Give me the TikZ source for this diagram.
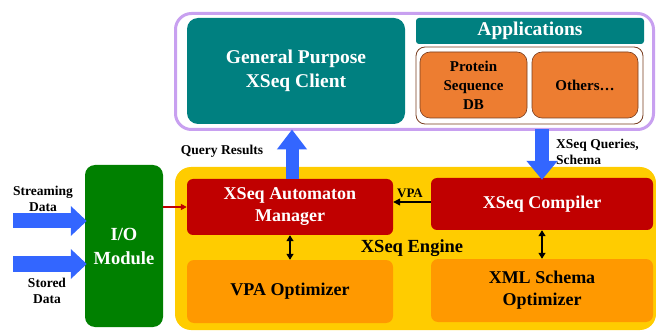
\documentclass[tikz,border=0pt]{standalone}
\usepackage{fontspec}
\setmainfont{Liberation Serif}
\usetikzlibrary{arrows.meta}
\definecolor{tealc}{RGB}{0,128,128}
\definecolor{purplec}{RGB}{200,160,240}
\definecolor{yellowc}{RGB}{255,204,0}
\definecolor{redc}{RGB}{192,0,0}
\definecolor{engorange}{RGB}{255,153,0}
\definecolor{apporange}{RGB}{237,125,49}
\definecolor{greenc}{RGB}{0,128,0}
\definecolor{bluec}{RGB}{51,102,255}
\definecolor{brownc}{RGB}{120,60,30}
\newcommand\myfs[2]{\fontsize{#1}{#2}\selectfont}
\tikzset{
  box/.style={rectangle, inner sep=0pt, align=center, font=\bfseries},
  tealbox/.style={box, fill=tealc, text=white},
  redbox/.style={box, fill=redc, text=white, rounded corners=6pt, font=\bfseries\myfs{18}{22}},
  optbox/.style={box, fill=engorange, text=black, rounded corners=7pt, font=\bfseries\myfs{18}{22}},
  appbox/.style={box, fill=apporange, draw=brownc, line width=0.6pt, text=black, rounded corners=10pt, font=\bfseries\myfs{15}{19}},
  lbl/.style={inner sep=0pt, align=center, font=\bfseries\myfs{13.5}{16}},
  fatarrow/.style={draw=bluec, line cap=butt},
  dbl/.style={draw=black, line width=1.3pt, {Triangle[length=6pt,width=7pt]}-{Triangle[length=6pt,width=7pt]}},
}
\begin{document}
\begin{tikzpicture}[x=1pt,y=-1pt]
\useasboundingbox (0,0) rectangle (656,331);
% containers
\draw[draw=purplec, fill=white, line width=3pt, rounded corners=16pt]
  (175.5,13.5) rectangle (653.5,129.5);
\coordinate (topsouth) at (414.5,129.5);
\fill[yellowc, rounded corners=16pt] (175,167) rectangle (656,330);
% top boxes
\node[tealbox, rounded corners=11pt, minimum width=218pt, minimum height=106pt,
  font=\bfseries\myfs{19.5}{24}] (client) at (296,71) {General Purpose\\XSeq Client};
\node[tealbox, rounded corners=3pt, minimum width=228pt, minimum height=26pt,
  font=\bfseries\myfs{19.5}{22}] (apps) at (530,31) {Applications};
\draw[draw=brownc, fill=white, line width=0.8pt, rounded corners=9pt]
  (416,47) rectangle (643,124);
\node[appbox, minimum width=107pt, minimum height=66pt] (protein) at (473.5,85) {Protein\\Sequence\\DB};
\node[appbox, minimum width=106pt, minimum height=66pt] (others) at (585,85) {Others…};
% engine boxes
\node[redbox, minimum width=206pt, minimum height=56pt] (manager) at (290,207) {XSeq Automaton\\Manager};
\node[redbox, minimum width=222pt, minimum height=52pt] (compiler) at (542,204) {XSeq Compiler};
\node[optbox, minimum width=206pt, minimum height=63pt] (vpaopt) at (290,291.5) {VPA Optimizer};
\node[optbox, minimum width=222pt, minimum height=63pt] (xmlopt) at (542,290.5) {XML Schema\\Optimizer};
\node[inner sep=0pt, font=\bfseries\myfs{18.5}{22}] (englbl) at (412,248) {XSeq Engine};
% I/O
\node[box, fill=greenc, text=white, rounded corners=10pt, minimum width=78pt, minimum height=162pt,
  font=\bfseries\myfs{18.5}{24}] (io) at (124,246) {I/O\\Module};
% labels
\node[lbl] (stream) at (43,199) {Streaming\\Data};
\node[lbl] (stored) at (47,291) {Stored\\Data};
\node[lbl] (qres) at (222,151) {Query Results};
\node[lbl, align=left, anchor=west] (xq) at (556,152) {XSeq Queries,\\Schema};
\node[inner sep=0pt, font=\bfseries\myfs{13}{15}] (vpalbl) at (410,193) {VPA};
% input arrows
\coordinate (s0) at (13,221);
\coordinate (t0) at (13,264);
\draw[fatarrow, line width=15pt, -{Triangle[length=16pt,width=29pt]}] (s0) -- ([xshift=2pt]s0 -| io.west);
\draw[fatarrow, line width=15pt, -{Triangle[length=16pt,width=29pt]}] (t0) -- ([xshift=2pt]t0 -| io.west);
% blue vertical arrows
\draw[fatarrow, line width=13pt, -{Triangle[length=20pt,width=29pt]}]
  ([xshift=2pt]manager.north) -- ([xshift=2pt]manager.north |- topsouth);
\draw[fatarrow, line width=14pt, -{Triangle[length=19pt,width=30pt]}]
  (topsouth -| compiler.north) -- ([yshift=-2pt]compiler.north);
% thin arrows
\draw[draw=redc, line width=1.5pt, -{Triangle[length=6pt,width=6pt]}] (io.east |- manager.west) -- (manager.west);
\draw[draw=black, line width=1.3pt, -{Triangle[length=7pt,width=7pt]}] ([yshift=2pt]compiler.west) -- ([yshift=2pt]compiler.west -| manager.east);
\draw[dbl] (manager.south) -- (vpaopt.north);
\draw[dbl] (compiler.south) -- (xmlopt.north);
\end{tikzpicture}
\end{document}
